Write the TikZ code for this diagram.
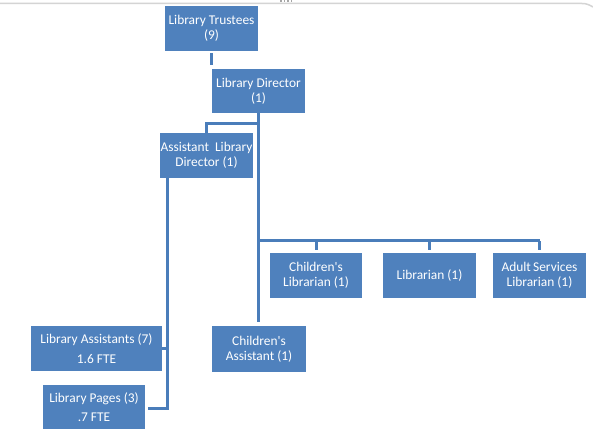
\documentclass[tikz,border=0pt]{standalone}
\usepackage{fontspec}
\setmainfont{Carlito}
\usetikzlibrary{calc}
\definecolor{boxblue}{HTML}{4F81BD}
\definecolor{lineblue}{HTML}{4A7DBA}
\definecolor{edgegray}{HTML}{D4D4D4}
\tikzset{
  orgbox/.style={rectangle, fill=boxblue, text=white, align=center, inner sep=0pt,
    font=\fontsize{13.4}{15}\selectfont},
  orgline/.style={draw=lineblue, line width=3pt},
}
\begin{document}
\begin{tikzpicture}[x=1pt,y=-1pt]
\useasboundingbox (0,0) rectangle (593,436);
\fill[white] (0,0) rectangle (593,436);
% screenshot edge
\draw[edgegray, line width=1.5pt] (0,3.5) -- (582,3.5) to[out=0,in=150] (593,7);
\fill[gray!70] (280,0) rectangle (281.8,2);
\fill[gray!70] (283.5,0) rectangle (285.3,2);
\fill[gray!70] (287,0) rectangle (288.8,2);
\fill[gray!70] (290.5,0) rectangle (292.3,2);

\node[orgbox, minimum width=93pt, minimum height=45pt] (T) at (211.5,28.5) {Library Trustees\\(9)};
\node[orgbox, minimum width=93pt, minimum height=44pt] (D) at (258.5,91) {Library Director\\(1)};
\node[orgbox, minimum width=93pt, minimum height=45pt] (ALD) at (206.5,155.5) {Assistant\ \ Library\\Director (1)};
\node[orgbox, minimum width=92pt, minimum height=45pt] (CL) at (316,275.5) {Children\textquotesingle s\\Librarian (1)};
\node[orgbox, minimum width=93pt, minimum height=45pt] (L) at (429.5,275.5) {Librarian (1)};
\node[orgbox, minimum width=93pt, minimum height=45pt] (AS) at (539.5,275.5) {Adult\,Services\\Librarian (1)};
\node[orgbox, minimum width=94pt, minimum height=46pt] (CA) at (259,349) {Children\textquotesingle s\\Assistant (1)};
\node[orgbox, minimum width=131pt, minimum height=45pt, font=\fontsize{13.4}{20}\selectfont] (LA) at (96.5,348.5) {Library Assistants (7)\\1.6 FTE};
\node[orgbox, minimum width=102pt, minimum height=44pt, font=\fontsize{13.4}{19}\selectfont] (LP) at (94,407) {Library Pages (3)\\.7 FTE};

% connectors
\draw[orgline] ($(T.south)+(0,2)$) -- ($(T.south)+(0,14)$);
\draw[orgline] (D.south) -- ($(D.south |- CA.north)+(0,-4)$);
\draw[orgline] (ALD.north) |- ($(D.south)+(0,10)$);
\draw[orgline] ($(D.south |- CL.north)+(0,-12)$) -- ($(AS.north)+(0,-12)$);
\draw[orgline] ($(CL.north)+(0,-3)$) -- ($(CL.north)+(0,-12)$);
\draw[orgline] ($(L.north)+(0,-3)$) -- ($(L.north)+(0,-12)$);
\draw[orgline] ($(AS.north)+(0,-3)$) -- ($(AS.north)+(0,-12)$);
\draw[orgline] ($(ALD.south west)+(8,0)$) |- ($(LP.east)+(3,1)$);
\draw[orgline] (LA.east) -- ($(LA.east)+(6,0)$);
\end{tikzpicture}
\end{document}
